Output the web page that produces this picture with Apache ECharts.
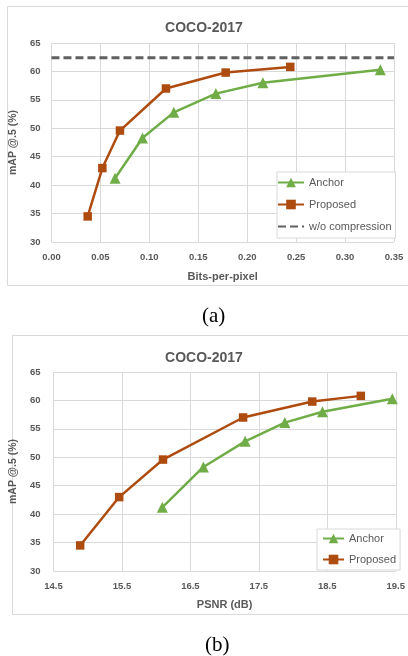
<!DOCTYPE html>
<html>
<head>
<meta charset="utf-8">
<script src="https://cdn.jsdelivr.net/npm/echarts@6/dist/echarts.min.js"></script>
<style>html,body{margin:0;padding:0;background:#fff}#c{width:408px;height:656px}</style>
</head>
<body>
<div id="c"></div>
<script>
const chartTitle = 'COCO-2017';
const seriesNames = ['Anchor', 'Proposed', 'w/o compression'];
// (a) bits-per-pixel vs mAP
const anchorBpp = [0.065, 0.093, 0.125, 0.168, 0.216, 0.336];
const anchorMap = [41.2, 48.3, 52.8, 56.1, 58.0, 60.3];
const proposedBpp = [0.037, 0.052, 0.070, 0.117, 0.178, 0.244];
const proposedMap = [34.5, 43.0, 49.6, 57.0, 59.8, 60.8];
const noCompressionMap = 62.4;
const bppRange = [0, 0.35];
// (b) PSNR vs mAP
const anchorPsnr = [16.09, 16.69, 17.30, 17.88, 18.43, 19.45];
const proposedPsnr = [14.89, 15.46, 16.10, 17.27, 18.28, 18.99];
const psnrTicks = [14.5, 15.5, 16.5, 17.5, 18.5, 19.5];
const mapRange = [30, 65];

const zip = (a, b) => a.map((v, i) => [v, b[i]]);
const GREEN = '#70AD47', BROWN = '#AE4B0F', GRAY = '#595959', GRID = '#D9D9D9';
const FONT = 'Liberation Sans';

function yAxis(gi, gap, margin) {
  return {
    type: 'value', gridIndex: gi, min: mapRange[0], max: mapRange[1], interval: 5,
    name: 'mAP @.5 (%)', nameLocation: 'middle', nameGap: gap, nameRotate: 90,
    nameTextStyle: {fontFamily: FONT, fontSize: 10.5, fontWeight: 'bold', color: GRAY},
    axisLine: {show: false}, axisTick: {show: false},
    axisLabel: {margin: margin, fontFamily: FONT, fontSize: 9.5, fontWeight: 'bold', color: GRAY},
    splitLine: {lineStyle: {color: GRID, width: 1}}
  };
}

const option = {
  animation: false,
  backgroundColor: '#fff',
  title: [
    {text: chartTitle, left: 'center', top: 16, textStyle: {fontFamily: FONT, fontSize: 14, fontWeight: 'bold', color: GRAY}},
    {text: chartTitle, left: 'center', top: 346, textStyle: {fontFamily: FONT, fontSize: 14, fontWeight: 'bold', color: GRAY}},
    {text: '(a)', left: 197, top: 301, textStyle: {fontFamily: 'Liberation Serif', fontSize: 21, fontWeight: 'normal', color: '#000'}},
    {text: '(b)', left: 200, top: 630, textStyle: {fontFamily: 'Liberation Serif', fontSize: 21, fontWeight: 'normal', color: '#000'}}
  ],
  graphic: [
    {type: 'rect', shape: {x: 7.5, y: 6.5, width: 410, height: 279}, style: {fill: 'none', stroke: GRID, lineWidth: 1}, z: -1},
    {type: 'rect', shape: {x: 12.5, y: 335.5, width: 410, height: 279}, style: {fill: 'none', stroke: GRID, lineWidth: 1}, z: -1}
  ],
  grid: [
    {left: 47, top: 43, width: 347, height: 199},
    {left: 50, top: 372, width: 349, height: 199}
  ],
  xAxis: [
    {
      type: 'value', gridIndex: 0, min: bppRange[0], max: bppRange[1], interval: 0.05,
      name: 'Bits-per-pixel', nameLocation: 'middle', nameGap: 29,
      nameTextStyle: {fontFamily: FONT, fontSize: 11, fontWeight: 'bold', color: GRAY},
      axisLine: {show: false}, axisTick: {show: false},
      axisLabel: {margin: 10, fontFamily: FONT, fontSize: 9.5, fontWeight: 'bold', color: GRAY, formatter: v => v.toFixed(2)},
      splitLine: {lineStyle: {color: GRID, width: 1}}
    },
    {
      type: 'value', gridIndex: 1, min: psnrTicks[0], max: psnrTicks[psnrTicks.length - 1],
      name: 'PSNR (dB)', nameLocation: 'middle', nameGap: 28,
      nameTextStyle: {fontFamily: FONT, fontSize: 11, fontWeight: 'bold', color: GRAY},
      axisLine: {show: false},
      axisTick: {show: false, customValues: psnrTicks},
      axisLabel: {margin: 10, fontFamily: FONT, fontSize: 9.5, fontWeight: 'bold', color: GRAY, customValues: psnrTicks, formatter: v => v.toFixed(1)},
      splitLine: {lineStyle: {color: GRID, width: 1}}
    }
  ],
  yAxis: [yAxis(0, 23, 11), yAxis(1, 22, 13)],
  legend: [
    {
      orient: 'vertical', left: 277, top: 172, width: 118,
      data: [seriesNames[0], seriesNames[1], {name: seriesNames[2], itemStyle: {opacity: 0}}],
      backgroundColor: '#fff', borderColor: GRID, borderWidth: 1, borderRadius: 0,
      padding: [5, 4, 6, 0], itemWidth: 26, itemHeight: 12, itemGap: 11,
      textStyle: {fontFamily: FONT, fontSize: 11, color: GRAY}
    },
    {
      orient: 'vertical', left: 317, top: 529,
      data: seriesNames.slice(0, 2),
      backgroundColor: '#fff', borderColor: GRID, borderWidth: 1, borderRadius: 0,
      padding: [4, 4, 5, 5], itemWidth: 21, itemHeight: 12, itemGap: 10,
      textStyle: {fontFamily: FONT, fontSize: 11, color: GRAY}
    }
  ],
  series: [
    {
      name: seriesNames[2], type: 'line', xAxisIndex: 0, yAxisIndex: 0,
      data: [[bppRange[0], noCompressionMap], [bppRange[1], noCompressionMap]],
      symbol: 'none', lineStyle: {color: '#606060', width: 3, type: [8, 4]}, itemStyle: {color: '#606060'}, z: 2
    },
    {
      name: seriesNames[0], type: 'line', xAxisIndex: 0, yAxisIndex: 0,
      data: zip(anchorBpp, anchorMap), symbol: 'triangle', symbolSize: 11,
      lineStyle: {color: GREEN, width: 2.5}, itemStyle: {color: GREEN}, z: 3
    },
    {
      name: seriesNames[1], type: 'line', xAxisIndex: 0, yAxisIndex: 0,
      data: zip(proposedBpp, proposedMap), symbol: 'rect', symbolSize: 8.5,
      lineStyle: {color: BROWN, width: 2.5}, itemStyle: {color: BROWN}, z: 3
    },
    {
      name: seriesNames[0], type: 'line', xAxisIndex: 1, yAxisIndex: 1,
      data: zip(anchorPsnr, anchorMap), symbol: 'triangle', symbolSize: 11,
      lineStyle: {color: GREEN, width: 2.5}, itemStyle: {color: GREEN}, z: 3
    },
    {
      name: seriesNames[1], type: 'line', xAxisIndex: 1, yAxisIndex: 1,
      data: zip(proposedPsnr, proposedMap), symbol: 'rect', symbolSize: 8.5,
      lineStyle: {color: BROWN, width: 2.5}, itemStyle: {color: BROWN}, z: 3
    }
  ]
};
const chart = echarts.init(document.getElementById('c'), null, {renderer: 'canvas'});
chart.setOption(option);
</script>
</body>
</html>
